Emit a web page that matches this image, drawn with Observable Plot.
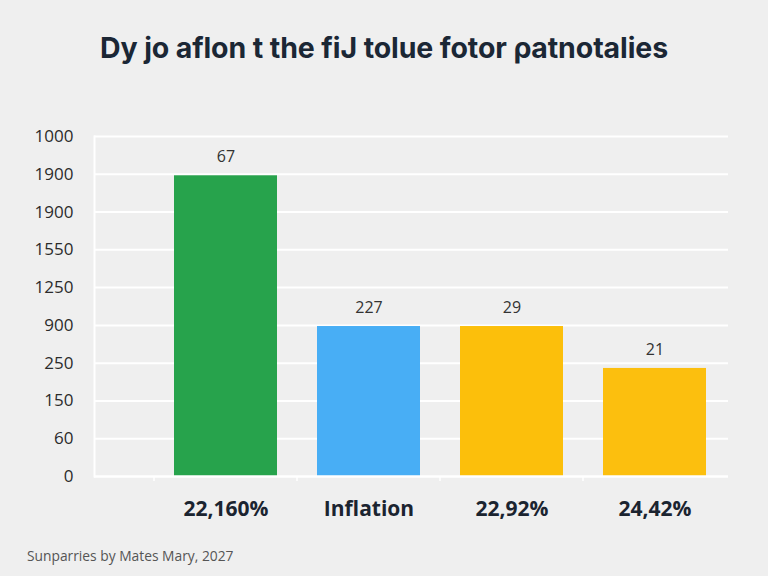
<!DOCTYPE html>
<html>
<head>
<meta charset="utf-8">
<script src="https://cdn.jsdelivr.net/npm/d3@7"></script>
<script src="https://cdn.jsdelivr.net/npm/@observablehq/plot@0.6"></script>
<style>
  html, body { margin: 0; padding: 0; background: #efefef; }
  body { width: 768px; height: 576px; overflow: hidden; font-family: "Open Sans", sans-serif; }
  #title {
    height: 90px; box-sizing: border-box; padding-top: 29px;
    text-align: center; font-family: Inter, sans-serif; font-weight: 700;
    font-size: 28.5px; color: #1b2735; letter-spacing: -0.1px; line-height: 38px;
  }
  #chart svg { display: block; }
  #chart [aria-label="x-axis tick label"] text { font-weight: 700; }
  #caption {
    height: 46px; box-sizing: border-box; padding: 17px 0 0 27px;
    font-size: 13.8px; color: #555; line-height: 18px;
  }
</style>
</head>
<body>
<div id="title">Dy jo aflon t the fiJ tolue fotor ρatnotalies</div>
<div id="chart"></div>
<div id="caption">Sunparries by Mates Mary, 2027</div>
<script>
// Categories along the bottom axis
const categories = ["22,160%", "Inflation", "22,92%", "24,42%"];
// Bar heights, measured in steps of the value axis (0 = baseline)
const barHeights = [7.96, 3.97, 3.97, 2.86];
// Figures printed above each bar
const barLabels = ["67", "227", "29", "21"];
// Labels of the value axis, bottom to top
const yTickLabels = ["0", "60", "150", "250", "900", "1250", "1550", "1900", "1900", "1000"];
// Bar fills
const barFills = ["#27a34c", "#48aef5", "#fcbf0b", "#fcbf0e"];

const rows = categories.map((c, i) => ({
  cat: c, h: barHeights[i], label: barLabels[i], fill: barFills[i]
}));

const chart = Plot.plot({
  width: 768,
  height: 440,
  marginTop: 46,
  marginBottom: 54,
  marginLeft: 94,
  marginRight: 40,
  style: { background: "transparent", fontFamily: "Open Sans, sans-serif", color: "#2b2b2b" },
  x: { domain: categories, range: [173.5, 705.5], paddingInner: 0.28, paddingOuter: 0, label: null },
  y: { domain: [0, yTickLabels.length - 1], label: null },
  color: { type: "identity" },
  marks: [
    Plot.ruleY(d3.range(1, yTickLabels.length), { stroke: "white", strokeWidth: 2 }),
    Plot.frame({ anchor: "left", stroke: "white", strokeWidth: 2 }),
    Plot.barY(rows, { x: "cat", y: "h", fill: "fill" }),
    Plot.ruleY([0], { stroke: "white", strokeWidth: 2.5 }),
    Plot.text(rows, { x: "cat", y: "h", text: "label", dy: -19, fontSize: 16, fill: "#333" }),
    Plot.axisY({
      ticks: d3.range(0, yTickLabels.length),
      tickFormat: i => yTickLabels[i],
      tickSize: 0, tickPadding: 21, fontSize: 17, fill: "#2b2b2b", label: null
    }),
    Plot.axisX({ tickSize: 0, tickPadding: 25, fontSize: 21, fill: "#1b2430", label: null }),
    Plot.axisX({ text: null, tickSize: 5, stroke: "white", strokeWidth: 1.5, dx: -72, label: null })
  ]
});
document.getElementById("chart").appendChild(chart);
</script>
</body>
</html>
